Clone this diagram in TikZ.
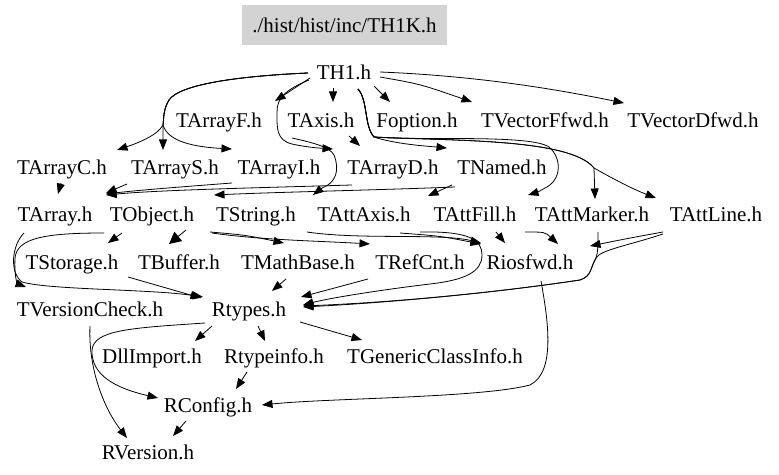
\documentclass[tikz,border=0pt]{standalone}
\usepackage{fontspec}
\setmainfont{Liberation Serif}
\usetikzlibrary{arrows.meta,calc}
\definecolor{boxgray}{RGB}{211,211,211}
\begin{document}
\begin{tikzpicture}[x=1bp,y=-1bp,
  lbl/.style={inner sep=0pt, anchor=base, font=\fontsize{21bp}{25bp}\selectfont},
  edge/.style={line width=0.8pt, -{Triangle[length=10.5bp,width=8bp]}},
  bigedge/.style={line width=0.8pt, -{Triangle[length=12bp,width=12bp]}}]
\useasboundingbox (0,0) rectangle (779,475);
% root
\node[fill=boxgray, minimum width=205bp, minimum height=40bp, inner sep=0pt,
      font=\fontsize{21bp}{25bp}\selectfont] (th1k) at (344.5,25) {./hist/hist/inc/TH1K.h};
% row 1
\node[lbl] (th1) at (344,80) {TH1.h};
% row 2
\node[lbl] (tarrayf) at (219,128) {TArrayF.h};
\node[lbl] (taxis) at (321,128) {TAxis.h};
\node[lbl] (foption) at (417,128) {Foption.h};
\node[lbl] (tvff) at (545,128) {TVectorFfwd.h};
\node[lbl] (tvdf) at (693,128) {TVectorDfwd.h};
% row 3
\node[lbl] (tarrayc) at (62,175) {TArrayC.h};
\node[lbl] (tarrays) at (175,175) {TArrayS.h};
\node[lbl] (tarrayi) at (279,175) {TArrayI.h};
\node[lbl] (tarrayd) at (393,175) {TArrayD.h};
\node[lbl] (tnamed) at (502,175) {TNamed.h};
% row 4
\node[lbl] (tarray) at (55,222) {TArray.h};
\node[lbl] (tobject) at (152,222) {TObject.h};
\node[lbl] (tstring) at (256,222) {TString.h};
\node[lbl] (tattaxis) at (364,222) {TAttAxis.h};
\node[lbl] (tattfill) at (475,222) {TAttFill.h};
\node[lbl] (tattmarker) at (592,222) {TAttMarker.h};
\node[lbl] (tattline) at (716,222) {TAttLine.h};
% row 5
\node[lbl] (tstorage) at (72,270) {TStorage.h};
\node[lbl] (tbuffer) at (179,270) {TBuffer.h};
\node[lbl] (tmathbase) at (298,270) {TMathBase.h};
\node[lbl] (trefcnt) at (420,270) {TRefCnt.h};
\node[lbl] (riosfwd) at (530,270) {Riosfwd.h};
% row 6
\node[lbl] (tversioncheck) at (90,317) {TVersionCheck.h};
\node[lbl] (rtypes) at (249,317) {Rtypes.h};
% row 7
\node[lbl] (dllimport) at (152,364) {DllImport.h};
\node[lbl] (rtypeinfo) at (274,364) {Rtypeinfo.h};
\node[lbl] (tgeneric) at (435,364) {TGenericClassInfo.h};
% row 8, 9
\node[lbl] (rconfig) at (208,412) {RConfig.h};
\node[lbl] (rversion) at (148,459) {RVersion.h};

% ---- TH1.h edges
\draw[edge] ($(th1.base)+(-34,-2)$) -- ($(tarrayf.base)+(56,-27)$);
\draw[edge] ($(th1.base)+(-11,8)$) -- ($(taxis.base)+(12,-26)$);
\draw[edge] ($(th1.base)+(30,6)$) -- ($(foption.base)+(-27,-26)$);
\draw[edge] ($(th1.base)+(36,-3)$) .. controls (420,84) .. ($(tvff.base)+(-73,-26)$);
\draw[edge] ($(th1.base)+(36,-8)$) .. controls (480,76) and (560,90) .. ($(tvdf.base)+(-69,-25)$);
\draw[edge] ($(th1.base)+(-36,-7)$) .. controls (240,76) and (180,84) .. (169,100)
   .. controls (163,110) and (164,118) .. (163,125)
   .. controls (158,135) and (138,143) .. ($(tarrayc.base)+(55,-25)$);
\draw[edge] ($(th1.base)+(-36,-7)$) .. controls (240,76) and (180,84) .. (169,100)
   .. controls (163,110) and (164,118) .. (163,125) -- ($(tarrays.base)+(-12,-25)$);
\draw[edge] ($(th1.base)+(-36,-7)$) .. controls (240,76) and (180,84) .. (169,100)
   .. controls (163,110) and (164,118) .. (163,125)
   .. controls (168,142) and (195,147) .. ($(tarrayi.base)+(-47,-26)$);
\draw[edge] ($(th1.base)+(-35,0)$) .. controls (285,90) and (277,98) .. (277,112)
   .. controls (277,128) and (276,140) .. (292,144)
   .. controls (305,147) and (318,148) .. ($(tarrayd.base)+(-60,-26)$);
\draw[edge] ($(th1.base)+(14,9)$) .. controls (368,100) and (364,126) .. (374,137)
   .. controls (395,144) and (425,146) .. ($(tnamed.base)+(-55,-27)$);
\draw[edge] ($(th1.base)+(14,9)$) .. controls (368,100) and (364,126) .. (374,137)
   .. controls (420,141) and (530,134) .. (549,147)
   .. controls (562,158) and (562,180) .. (545,188)
   .. controls (538,192) .. ($(tattfill.base)+(53,-27)$);
\draw[edge] ($(th1.base)+(14,9)$) .. controls (368,100) and (364,126) .. (374,137)
   .. controls (450,141) and (570,138) .. (594,168) -- ($(tattmarker.base)+(3,-23)$);
\draw[edge] ($(th1.base)+(14,9)$) .. controls (368,100) and (364,126) .. (374,137)
   .. controls (450,141) and (570,138) .. (594,168)
   .. controls (615,180) and (635,190) .. ($(tattline.base)+(-60,-24)$);

% ---- TAxis / TNamed / TArray*
\draw[edge] ($(taxis.base)+(28,8)$) -- ($(tarrayd.base)+(-33,-29)$);
\draw[edge] ($(taxis.base)+(-29,10)$) .. controls (305,141) and (330,146) .. (334,155)
   .. controls (340,170) and (336,183) .. (322,188) -- ($(tattaxis.base)+(-51,-27)$);
\draw[edge] ($(tnamed.base)+(-50,10)$) -- ($(tattaxis.base)+(64,-26)$);
\draw[edge] ($(tnamed.base)+(-47,12)$) .. controls (380,190) and (280,192) .. ($(tobject.base)+(62,-27)$);
\draw[edge] ($(tarrayd.base)+(-41,10)$) .. controls (250,188) and (160,190) .. ($(tarray.base)+(51,-27)$);
\draw[edge] ($(tarrayi.base)+(-47,8)$) .. controls (180,187) and (140,190) .. ($(tarray.base)+(51,-28)$);
\draw[edge] ($(tarrays.base)+(-48,9)$) -- ($(tarray.base)+(51,-29)$);
\draw[edge] ($(tarrayc.base)+(-1,8)$) -- ($(tarray.base)+(3,-28)$);

% ---- row 4 -> row 5 / 6
\draw[edge] ($(tobject.base)+(-30,11)$) -- ($(tstorage.base)+(36,-27)$);
\draw[bigedge] ($(tobject.base)+(34,8)$) -- ($(tbuffer.base)+(-10,-26)$);
\draw[edge] ($(tobject.base)+(-48,11)$) .. controls (45,233) and (17,238) .. (15,258)
   .. controls (14,278) and (18,284) .. ($(tversioncheck.base)+(-64,-30)$);
\draw[edge] ($(tarray.base)+(-31,11)$) .. controls (12,245) and (9,272) .. (22,282)
   .. controls (50,290) and (150,289) .. ($(rtypes.base)+(-46,-20)$);
\draw[edge] ($(tstorage.base)+(56,7)$) -- ($(rtypes.base)+(-48,-19)$);
\draw[edge] ($(tstring.base)+(-46,10)$) .. controls (245,235) .. ($(tmathbase.base)+(-14,-27)$);
\draw[edge] ($(tstring.base)+(-44,11)$) .. controls (260,240) and (320,241) .. ($(trefcnt.base)+(-50,-26)$);
\draw[edge] ($(tstring.base)+(51,10)$) .. controls (360,240) and (440,233) .. ($(riosfwd.base)+(-49,-27)$);
\draw[edge] ($(tattaxis.base)+(36,11)$) .. controls (440,236) .. ($(riosfwd.base)+(-49,-26)$);
\draw[edge] ($(tattfill.base)+(21,10)$) -- ($(riosfwd.base)+(-25,-27)$);
\draw[edge] ($(tattmarker.base)+(-67,10)$) .. controls (545,232) .. ($(riosfwd.base)+(28,-26)$);
\draw[edge] ($(tattline.base)+(-53,10)$) .. controls (630,238) .. ($(riosfwd.base)+(60,-24)$);
\draw[edge] ($(tattmarker.base)+(6,10)$) .. controls (598,245) and (598,252) .. (596,258)
   .. controls (590,268) and (592,276) .. (580,280)
   .. controls (500,292) and (400,302) .. ($(rtypes.base)+(54,-11)$);
\draw[edge] ($(tattline.base)+(-53,12)$) .. controls (630,245) and (600,250) .. (596,258)
   .. controls (590,268) and (592,276) .. (580,280)
   .. controls (500,292) and (400,302) .. ($(rtypes.base)+(54,-10)$);
\draw[edge] ($(tattfill.base)+(-55,10)$) .. controls (470,231) and (482,240) .. (482,255)
   .. controls (482,272) and (465,280) .. (430,284)
   .. controls (380,290) and (330,298) .. ($(rtypes.base)+(54,-12)$);
\draw[edge] ($(tmathbase.base)+(-12,9)$) -- ($(rtypes.base)+(23,-26)$);
\draw[edge] ($(trefcnt.base)+(-52,9)$) -- ($(rtypes.base)+(52,-20)$);
\draw[edge] ($(riosfwd.base)+(11,11)$) .. controls (548,320) and (556,372) .. (530,385)
   .. controls (480,398) and (330,398) .. ($(rconfig.base)+(54,-7)$);

% ---- bottom part
\draw[edge] ($(rtypes.base)+(-37,9)$) -- ($(dllimport.base)+(43,-23)$);
\draw[edge] ($(rtypes.base)+(9,9)$) -- ($(rtypeinfo.base)+(-9,-23)$);
\draw[edge] ($(rtypes.base)+(51,5)$) -- ($(tgeneric.base)+(-73,-24)$);
\draw[edge] ($(rtypes.base)+(-44,6)$) .. controls (130,328) and (94,330) .. (92,350)
   .. controls (91,375) and (115,388) .. ($(rconfig.base)+(-50,-14)$);
\draw[edge] ($(tversioncheck.base)+(0,9)$) .. controls (88,370) and (105,410) .. ($(rversion.base)+(-21,-21)$);
\draw[edge] ($(rtypeinfo.base)+(-27,8)$) -- ($(rconfig.base)+(28,-23)$);
\draw[edge] ($(rconfig.base)+(-22,9)$) -- ($(rversion.base)+(25,-23)$);
\end{tikzpicture}
\end{document}
